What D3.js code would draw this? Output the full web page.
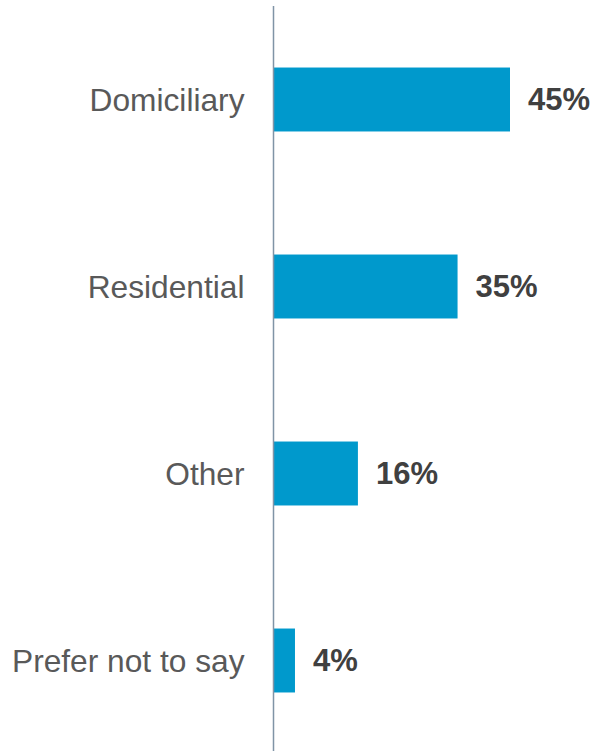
<!DOCTYPE html>
<html>
<head>
<meta charset="utf-8">
<script src="https://cdn.jsdelivr.net/npm/d3@7"></script>
<style>
  html, body { margin: 0; padding: 0; background: #fff; }
  svg { display: block; }
</style>
</head>
<body>
<script>
// Care setting breakdown (percent of respondents)
const categories = ["Domiciliary", "Residential", "Other", "Prefer not to say"];
const values = [45, 35, 16, 4];
const valueLabels = ["45%", "35%", "16%", "4%"];

const W = 595, H = 751;
const svg = d3.select("body").append("svg").attr("width", W).attr("height", H);

const y = d3.scaleBand()
  .domain(categories)
  .range([6, 754])
  .paddingInner(0.658)
  .paddingOuter(0.329);

const x = d3.scaleLinear().domain([0, 45]).range([274, 510]);

// bars
svg.append("g").selectAll("rect")
  .data(categories)
  .join("rect")
  .attr("x", x(0))
  .attr("y", d => y(d))
  .attr("width", (d, i) => x(values[i]) - x(0))
  .attr("height", y.bandwidth())
  .attr("fill", "#0099cc");

// category axis on the left
const axis = svg.append("g")
  .attr("transform", `translate(${x(0) - 0.5},0)`)
  .call(d3.axisLeft(y).tickSize(0).tickPadding(29));
axis.select(".domain").attr("stroke", "#8094a6").attr("stroke-width", 1.5)
  .attr("d", "M0,6V751");
axis.selectAll(".tick text")
  .attr("font-family", "Liberation Sans, Arial, sans-serif")
  .attr("font-size", 31.7)
  .attr("fill", "#595959")
  .attr("dy", "0.35em");

// value labels
svg.append("g").selectAll("text")
  .data(categories)
  .join("text")
  .attr("x", (d, i) => x(values[i]) + 18)
  .attr("y", d => y(d) + y.bandwidth() / 2)
  .attr("dy", "0.35em")
  .attr("font-family", "Liberation Sans, Arial, sans-serif")
  .attr("font-size", 31)
  .attr("font-weight", "bold")
  .attr("fill", "#404040")
  .text((d, i) => valueLabels[i]);
</script>
</body>
</html>
